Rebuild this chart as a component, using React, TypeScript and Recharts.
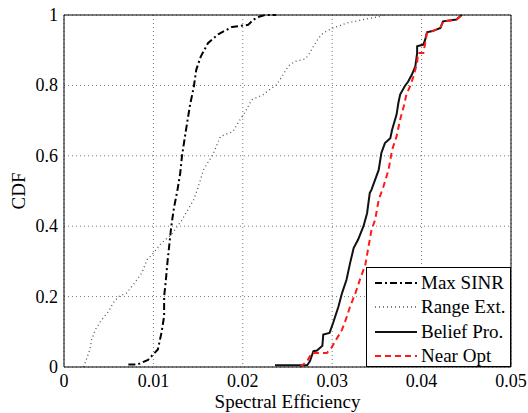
import { LineChart, Line, XAxis, YAxis, CartesianGrid, Legend } from "recharts";

// CDF samples [spectral efficiency, cdf]
const maxSinr = [
  [0.0072, 0.007], [0.0082, 0.007], [0.0094, 0.02], [0.0105, 0.05], [0.0109, 0.097],
  [0.0112, 0.144], [0.0112, 0.2], [0.0114, 0.248], [0.0116, 0.305], [0.0118, 0.352],
  [0.012, 0.4], [0.0123, 0.452], [0.0127, 0.504], [0.013, 0.551], [0.0132, 0.6],
  [0.0135, 0.65], [0.0138, 0.698], [0.0141, 0.745], [0.0145, 0.793], [0.0148, 0.845],
  [0.0153, 0.882], [0.0161, 0.92], [0.0173, 0.946], [0.0188, 0.966], [0.0206, 0.972],
  [0.0212, 0.987], [0.0219, 0.996], [0.0225, 1], [0.0237, 1],
];

const rangeExt = [
  [0.0022, 0], [0.0029, 0.05], [0.0031, 0.078], [0.0035, 0.106], [0.0042, 0.134],
  [0.005, 0.158], [0.0055, 0.182], [0.0061, 0.2], [0.007, 0.21], [0.0079, 0.239],
  [0.0087, 0.267], [0.0093, 0.305], [0.01, 0.324], [0.0109, 0.352], [0.012, 0.376],
  [0.0132, 0.418], [0.0145, 0.475], [0.015, 0.51], [0.0156, 0.56], [0.0167, 0.606],
  [0.0175, 0.655], [0.0189, 0.669], [0.0197, 0.703], [0.0203, 0.726], [0.021, 0.759],
  [0.0223, 0.774], [0.023, 0.788], [0.0238, 0.802], [0.0244, 0.826], [0.0251, 0.855],
  [0.0258, 0.868], [0.027, 0.875], [0.0275, 0.892], [0.0279, 0.911], [0.0285, 0.935],
  [0.029, 0.949], [0.0301, 0.963], [0.0316, 0.977], [0.0335, 0.987], [0.0354, 0.996],
  [0.0357, 1],
];

const beliefPro = [
  [0.0236, 0.005], [0.0272, 0.005], [0.0275, 0.016], [0.0279, 0.045], [0.0283, 0.047],
  [0.0289, 0.06], [0.029, 0.092], [0.0297, 0.097], [0.0301, 0.125], [0.0307, 0.172],
  [0.0311, 0.21], [0.0316, 0.248], [0.032, 0.295], [0.0324, 0.338], [0.0329, 0.362],
  [0.0335, 0.4], [0.0339, 0.437], [0.0342, 0.494], [0.0344, 0.504], [0.0352, 0.56],
  [0.0355, 0.608], [0.0359, 0.636], [0.0365, 0.65], [0.0367, 0.674], [0.0372, 0.717],
  [0.0374, 0.75], [0.0376, 0.774], [0.0381, 0.797], [0.0385, 0.811], [0.0389, 0.83],
  [0.0393, 0.854], [0.0395, 0.892], [0.0395, 0.911], [0.0402, 0.916], [0.0404, 0.93],
  [0.0406, 0.951], [0.0413, 0.955], [0.0421, 0.963], [0.0424, 0.982], [0.0439, 0.987],
  [0.0443, 0.996], [0.0445, 1],
];

const nearOpt = [
  [0.0264, 0], [0.0272, 0.016], [0.0277, 0.04], [0.0294, 0.04], [0.0299, 0.054],
  [0.0305, 0.08], [0.0311, 0.106], [0.0316, 0.14], [0.032, 0.172], [0.0326, 0.21],
  [0.0331, 0.248], [0.0337, 0.29], [0.034, 0.333], [0.0344, 0.39], [0.0348, 0.418],
  [0.0352, 0.475], [0.0357, 0.51], [0.0363, 0.56], [0.0367, 0.617], [0.0372, 0.655],
  [0.0376, 0.703], [0.038, 0.74], [0.0383, 0.774], [0.0387, 0.797], [0.0391, 0.826],
  [0.0395, 0.864], [0.0396, 0.892], [0.0402, 0.892], [0.0404, 0.92], [0.0406, 0.949],
  [0.0413, 0.955], [0.0421, 0.963], [0.0424, 0.982], [0.0439, 0.987], [0.0443, 0.996],
  [0.0445, 1],
];

const xTicks = [0, 0.01, 0.02, 0.03, 0.04, 0.05];
const xTickLabels = ["0", "0.01", "0.02", "0.03", "0.04", "0.05"];
const yTicks = [0, 0.2, 0.4, 0.6, 0.8, 1];
const yTickLabels = ["0", "0.2", "0.4", "0.6", "0.8", "1"];

const FONT = "Liberation Serif";

const series = [
  { name: "Max SINR", points: maxSinr, color: "#000", width: 2, dash: "7 3 2 3" },
  { name: "Range Ext.", points: rangeExt, color: "#555", width: 1.3, dash: "1 3" },
  { name: "Belief Pro.", points: beliefPro, color: "#111", width: 2, dash: undefined },
  { name: "Near Opt", points: nearOpt, color: "#ff1a1a", width: 2, dash: "6 4" },
];

const toRows = (pts: number[][]) => pts.map(([x, y]) => ({ x, y }));

// tick label renderers so the serif font is applied for sure
function XTick(props: any) {
  const { x, y, payload } = props;
  const v = payload.value;
  return (
    <text x={x} y={y + 14} textAnchor="middle" fill="#000" fontSize={18} fontFamily={FONT}>
      {xTickLabels[xTicks.indexOf(v)] ?? String(v)}
    </text>
  );
}

function YTick(props: any) {
  const { x, y, payload } = props;
  const v = payload.value;
  return (
    <text x={x} y={y + 6} textAnchor="end" fill="#000" fontSize={18} fontFamily={FONT}>
      {yTickLabels[yTicks.indexOf(v)] ?? String(v)}
    </text>
  );
}

function LegendBox() {
  return (
    <div
      style={{
        position: "relative",
        width: 145,
        height: 100,
        boxSizing: "border-box",
        border: "1px solid #000",
        background: "#fff",
        fontFamily: FONT,
        fontSize: 19,
      }}
    >
      {series.map((s, i) => (
        <div
          key={s.name}
          style={{
            position: "absolute",
            left: 0,
            top: 3 + i * 24.3,
            height: 24,
            display: "flex",
            alignItems: "center",
            whiteSpace: "nowrap",
          }}
        >
          <svg width={54} height={24} style={{ display: "block" }}>
            <line
              x1={8}
              y1={12}
              x2={50}
              y2={12}
              stroke={s.color}
              strokeWidth={s.width}
              strokeDasharray={s.dash}
            />
          </svg>
          <span style={{ color: "#000" }}>{s.name}</span>
        </div>
      ))}
    </div>
  );
}

export default function App() {
  return (
    <div style={{ position: "absolute", left: 0, top: 0, fontFamily: FONT }}>
      <LineChart
        width={528}
        height={413}
        margin={{ top: 15, right: 17, left: 0, bottom: 0 }}
      >
        <CartesianGrid stroke="#777" strokeDasharray="1 3" />
        <XAxis
          dataKey="x"
          type="number"
          domain={[0, 0.05]}
          ticks={xTicks}
          tickLine={false}
          tickSize={0}
          tickMargin={6}
          height={46}
          axisLine={{ stroke: "#000" }}
          tick={<XTick />}
          label={{
            value: "Spectral Efficiency",
            position: "insideBottom",
            offset: 5,
            fill: "#000",
            fontSize: 19,
            fontFamily: FONT,
          }}
        />
        <XAxis
          xAxisId="top"
          orientation="top"
          mirror
          type="number"
          domain={[0, 0.05]}
          ticks={xTicks}
          tick={false}
          tickSize={5}
          tickLine={{ stroke: "#000" }}
          axisLine={{ stroke: "#000" }}
        />
        <XAxis
          xAxisId="btm"
          orientation="bottom"
          mirror
          type="number"
          domain={[0, 0.05]}
          ticks={xTicks}
          tick={false}
          tickSize={5}
          tickLine={{ stroke: "#000" }}
          axisLine={false}
        />
        <YAxis
          type="number"
          domain={[0, 1]}
          ticks={yTicks}
          tickLine={false}
          tickSize={0}
          tickMargin={6}
          width={64}
          axisLine={{ stroke: "#000" }}
          tick={<YTick />}
          label={(props: any) => {
            const vb = props.viewBox || {};
            const cy = (vb.y ?? 15) + (vb.height ?? 352) / 2;
            const cx = 18;
            return (
              <text
                x={cx}
                y={cy}
                transform={`rotate(-90 ${cx} ${cy})`}
                textAnchor="middle"
                dominantBaseline="central"
                fill="#000"
                fontSize={19}
                fontFamily={FONT}
              >
                CDF
              </text>
            );
          }}
        />
        <YAxis
          yAxisId="right"
          orientation="right"
          mirror
          type="number"
          domain={[0, 1]}
          ticks={yTicks}
          tick={false}
          tickSize={5}
          tickLine={{ stroke: "#000" }}
          axisLine={{ stroke: "#000" }}
        />
        <YAxis
          yAxisId="lm"
          orientation="left"
          mirror
          type="number"
          domain={[0, 1]}
          ticks={yTicks}
          tick={false}
          tickSize={5}
          tickLine={{ stroke: "#000" }}
          axisLine={false}
        />
        {series.map((s) => (
          <Line
            key={s.name}
            name={s.name}
            data={toRows(s.points)}
            dataKey="y"
            type="linear"
            stroke={s.color}
            strokeWidth={s.width}
            strokeDasharray={s.dash}
            dot={false}
            activeDot={false}
            isAnimationActive={false}
          />
        ))}
        <Legend
          layout="vertical"
          align="center"
          verticalAlign="middle"
          content={() => <LegendBox />}
          wrapperStyle={{ left: 366, top: 267, width: 145, height: 100 }}
        />
      </LineChart>
    </div>
  );
}
